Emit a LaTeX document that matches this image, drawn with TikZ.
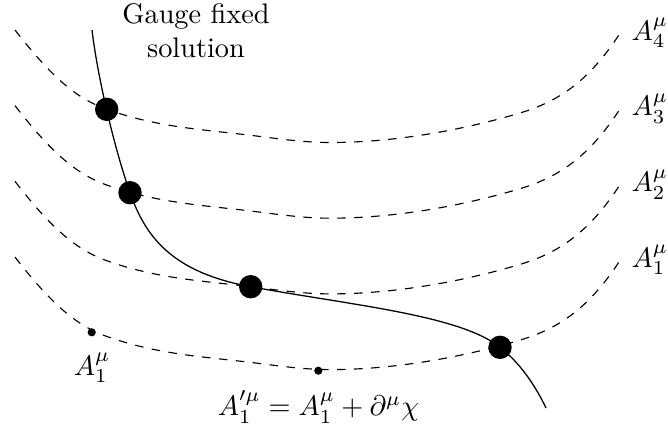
\documentclass[tikz,border=0pt]{standalone}
\begin{document}
\begin{tikzpicture}[x=0.3534pt,y=-0.3534pt,
  bigdot/.style={circle,fill=black,inner sep=0pt,minimum size=8.27pt},
  smalldot/.style={circle,fill=black,inner sep=0pt,minimum size=2.9pt},
  gaugeline/.style={dashed,line width=0.4pt},
  solline/.style={line width=0.45pt}]
\useasboundingbox (0,0) rectangle (668,430);
% gauge orbits
\foreach \k/\n in {0/4,1/3,2/2,3/1}{
  \begin{scope}[shift={(0,{\k*75.7})}]
    \coordinate (s\n) at (15,30);
    \coordinate (e\n) at (621,31.7);
    \draw[gaugeline] (s\n) .. controls (50,75) and (75,98) .. (106.7,109.3)
      .. controls (156.7,127.1) and (200.7,129.3) .. (250.7,135.3)
      .. controls (277.7,138.6) and (303,142.5) .. (330,142.5)
      .. controls (400,142.5) and (470,128) .. (520,113)
      .. controls (560,101) and (590,80) .. (e\n);
    \node[anchor=west,inner sep=3.33pt] (lab\n) at (621.6,33) {$A^\mu_{\n}$};
  \end{scope}
}
% points
\coordinate (solTop) at (92,30);
\coordinate (p1) at (106.7,109.3);
\coordinate (p2) at (130,192.7);
\coordinate (p3) at (250.7,286.7);
\coordinate (p4) at (500,347.3);
\coordinate (solEnd) at (546,408);
\coordinate (q1) at (91.7,332.3);
\coordinate (q2) at (318.3,370.7);
% gauge fixed solution
\draw[solline] (solTop) .. controls (98,80) and (115,150) .. (p2)
  .. controls (145,235) and (170,272) .. (p3)
  .. controls (350,305) and (460,315) .. (p4)
  .. controls (520,363) and (535,385) .. (solEnd);
\node[bigdot] (d1) at (p1) {};
\node[bigdot] (d2) at (p2) {};
\node[bigdot] (d3) at (p3) {};
\node[bigdot] (d4) at (p4) {};
\node[smalldot] (c1) at (q1) {};
\node[smalldot] (c2) at (q2) {};
% labels
\node[align=center] (gfs) at (196,31) {Gauge fixed\\solution};
\node (a1) at (92,368) {$A^\mu_1$};
\node (eq) at (318.5,407) {$A'^\mu_1 = A^\mu_1 + \partial^\mu\chi$};
\end{tikzpicture}
\end{document}
